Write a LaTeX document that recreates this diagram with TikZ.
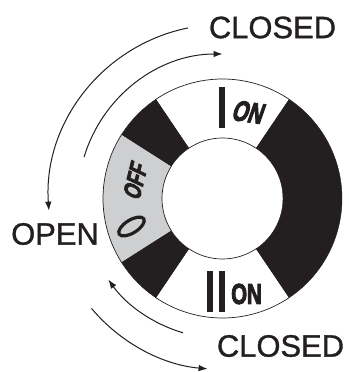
\documentclass[tikz,border=0pt]{standalone}
\usepackage{fontspec}
\setmainfont{Liberation Sans}
\newfontfamily\lblfont[FakeBold=1]{Liberation Sans}
\newfontfamily\onfont[UprightFont=* Bold,FakeStretch=0.7,FakeBold=3]{Liberation Sans}
\newfontfamily\slantfont[UprightFont=* Bold,FakeStretch=0.7,FakeBold=3,FakeSlant=0.2]{Liberation Sans}
\usetikzlibrary{arrows.meta,calc}
\definecolor{ink}{HTML}{231F20}
\definecolor{offgrey}{HTML}{CDCFD1}
\def\ro{119.5}
\def\ri{60.5}
\newcommand{\ringsector}[3][]{%
  \path[#1] ($(c)+(#2:\ro)$) arc[start angle=#2,end angle=#3,radius=\ro]
    -- ($(c)+(#3:\ri)$) arc[start angle=#3,end angle=#2,radius=\ri] -- cycle;}
\tikzset{
  x=1pt,y=1pt,
  lbl/.style={font=\fontsize{30.9}{31}\lblfont,text=ink,inner sep=0pt},
  swon/.style={font=\fontsize{29}{29}\onfont,text=ink,inner sep=0pt},
  swtilt/.style={font=\fontsize{29}{29}\slantfont,text=ink,inner sep=0pt},
  swoff/.style={font=\fontsize{25}{25}\slantfont,text=ink,inner sep=0pt},
  mv/.style={draw=ink,line width=1pt},
  tipped/.style={-{Latex[length=9pt,width=6.5pt]}},
  bar/.style={fill=ink,draw=none},
  rim/.style={draw=ink,line width=0.7pt},
}
\begin{document}
\begin{tikzpicture}
\useasboundingbox (0,0) rectangle (348,372);
\coordinate (c) at (222.5,173.5);
% ring
\ringsector[fill=white,rim]{56}{124}
\ringsector[fill=white,rim]{236}{304}
\ringsector[fill=offgrey,rim]{147.5}{212.5}
\ringsector[fill=ink,draw=ink]{-56}{56}
\ringsector[fill=ink,draw=ink]{124}{147.5}
\ringsector[fill=ink,draw=ink]{212.5}{236}
% switch markings
\fill[bar] (219,244) rectangle (225,285);
\fill[bar] (207,60) rectangle (213,101);
\fill[bar] (219,60) rectangle (225,101);
\node[swtilt,rotate=-8] (on1) at (247,260) {ON};
\node[swon] (on2) at (246.5,78) {ON};
\node[swoff,rotate=76] (off) at (135,190) {OFF};
\draw[ink,line width=3.2pt,rotate around={32:(131.5,145.5)}] (131.5,145.5) ellipse[x radius=14.5,y radius=6.5];
% labels
\node[lbl] (closedtop) at (272.5,344.5) {CLOSED};
\node[lbl] (closedbot) at (280.5,26) {CLOSED};
\node[lbl] (open) at (55,138) {OPEN};
% movement arcs
\draw[mv,tipped] ($(c)+(101.4:174)$) arc[start angle=101.4,end angle=184,radius=174];
\draw[mv,tipped] ($(c)+(163.3:144.5)$) arc[start angle=163.3,end angle=90,radius=144.5];
\draw[mv,tipped] ($(c)+(253.6:140)$) arc[start angle=253.6,end angle=215.4,radius=140];
\draw[mv,tipped] ($(c)+(220:171)$) arc[start angle=220,end angle=265,radius=171];
\end{tikzpicture}
\end{document}
